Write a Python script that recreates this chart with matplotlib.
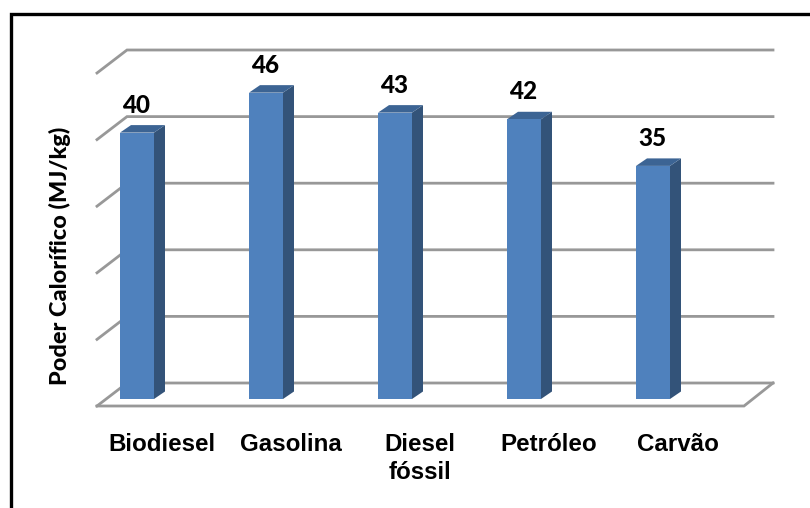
import matplotlib
matplotlib.use("Agg")
import matplotlib.pyplot as plt
from matplotlib.patches import Polygon

categories = ["Biodiesel", "Gasolina", "Diesel\nfóssil", "Petróleo", "Carvão"]
values = [40, 46, 43, 42, 35]
grid_values = [0, 10, 20, 30, 40, 50]
y_title = "Poder Calorífico (MJ/kg)"

W, H = 810, 508
PX_PER_CAT = 129.0
PX_PER_UNIT = 6.66
X0_PX, Y0_PX = 137.0, 399.0

# Projection offsets of the pseudo-3D box, expressed in data units
def dx(px):
    return px / PX_PER_CAT

def dy(px):
    return px / PX_PER_UNIT

fig = plt.figure(figsize=(W / 100, H / 100), dpi=100, facecolor="white")
ax = fig.add_axes([0, 0, 1, 1])
ax.set_xlim(-X0_PX / PX_PER_CAT, (W - X0_PX) / PX_PER_CAT)
ax.set_ylim(-(H - Y0_PX) / PX_PER_UNIT, Y0_PX / PX_PER_UNIT)
ax.axis("off")

GRID = "#989898"
FRONT = "#4f81bd"
TOP = "#3c6494"
SIDE = "#335379"

left_front = dx(97 - X0_PX)
left_back = dx(127 - X0_PX)
right_front = dx(744 - X0_PX)
right_back = dx(773 - X0_PX)
back_rise = dy(16)
front_drop = dy(-7)

# Back wall gridlines with their slanted side-wall segments
for v in grid_values:
    ax.plot([left_front, left_back, right_back],
            [v + front_drop, v + back_rise, v + back_rise],
            color=GRID, lw=2.0, solid_joinstyle="miter", zorder=1)

# Front and right edges of the floor
ax.plot([left_front, right_front, right_back],
        [front_drop, front_drop, back_rise],
        color=GRID, lw=2.0, solid_joinstyle="miter", zorder=1)

half = dx(17)
depth_x = dx(11)
depth_y = dy(7.5)

for i, v in enumerate(values):
    l, r = i - half, i + half
    ax.add_patch(Polygon([(r, 0), (r + depth_x, depth_y), (r + depth_x, v + depth_y), (r, v)],
                         closed=True, fc=SIDE, ec="none", zorder=3))
    ax.add_patch(Polygon([(l, v), (r, v), (r + depth_x, v + depth_y), (l + depth_x, v + depth_y)],
                         closed=True, fc=TOP, ec="none", zorder=3))
    ax.add_patch(Polygon([(l, 0), (r, 0), (r, v), (l, v)],
                         closed=True, fc=FRONT, ec="none", zorder=4))
    ax.text(i + dx(-1), v + dy(20), str(v), ha="center", va="baseline",
            family="Lato", fontweight="black", fontsize=17.5, color="black", zorder=5)

# Category labels, set line by line so wrapped names keep a fixed leading
for i, name in enumerate(categories):
    for j, line in enumerate(name.split("\n")):
        ax.text(i + dx(25), dy(Y0_PX - 451 - 28 * j), line, ha="center", va="baseline",
                family="Liberation Sans", fontweight="bold", fontsize=17.4,
                color="black", zorder=5)

ax.text(dx(60 - X0_PX), dy(Y0_PX - 256), y_title, rotation=90, ha="center", va="center",
        family="Lato", fontweight="black", fontsize=16.9, color="black", zorder=5)

# Frame around the chart; it runs off the right and bottom of the canvas
ax.plot([dx(10.5 - X0_PX), dx(10.5 - X0_PX), dx(W + 5 - X0_PX)],
        [dy(Y0_PX - H - 5), dy(Y0_PX - 14), dy(Y0_PX - 14)],
        color="black", lw=2.4, solid_joinstyle="miter", zorder=6)

fig.savefig("out.png", dpi=100, facecolor="white")
